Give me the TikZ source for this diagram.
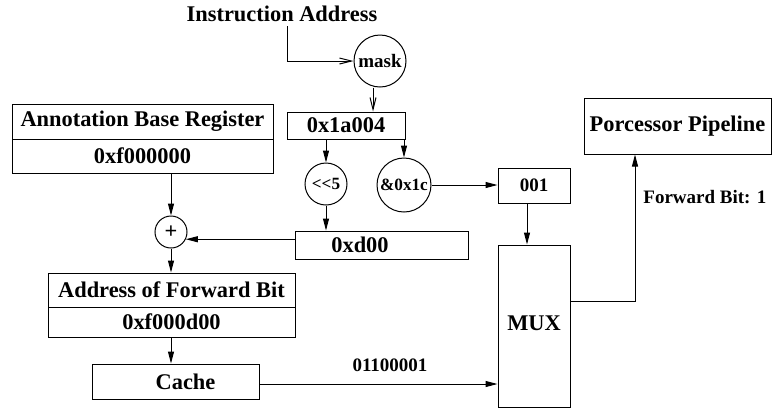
\documentclass[tikz,border=0pt]{standalone}
\usepackage{fontspec}
\setmainfont{Liberation Serif}
\usetikzlibrary{arrows.meta}
\begin{document}
\begin{tikzpicture}[x=0.5pt,y=-0.5pt,
  bigfont/.style={font=\fontsize{11.2}{13}\selectfont\bfseries},
  smallfont/.style={font=\fontsize{9.5}{11}\selectfont\bfseries},
  box/.style={draw, line width=0.5pt, inner sep=0pt, bigfont},
  circ/.style={draw, circle, line width=0.5pt, inner sep=0pt, smallfont},
  lbl/.style={inner sep=0pt, smallfont},
  arr/.style={-{Triangle[length=6pt,width=3pt]}, line width=0.5pt},
  openarr/.style={-{Straight Barb[length=6pt,width=3pt]}, line width=0.5pt}]
\useasboundingbox (0,0) rectangle (772,409);

% input address and mask
\node[inner sep=0pt, bigfont] (ia) at (282,14) {Instruction Address};
\node[circ, minimum size=26pt] (mask) at (380,61) {mask};
\node[box, minimum width=59pt, minimum height=13.5pt] (addr) at (346,125.5) {0x1a004};

% shift and and-mask operators
\node[circ, minimum size=21pt, font=\fontsize{8.6}{10}\selectfont\bfseries] (shl) at (326,184) {\char`\<\kern0pt\char`\<\kern0pt 5};
\node[circ, minimum size=27pt, font=\fontsize{8.6}{10}\selectfont\bfseries] (andm) at (404,185) {\&0x1c};
\node[box, minimum width=86.5pt, minimum height=14pt] (xd00) at (381.5,245) {0xd00\hspace*{21.5pt}};
\node[box, minimum width=36pt, minimum height=17.5pt, smallfont] (b001) at (534,185.5) {001};

% annotation base register and adder
\node[box, minimum width=130.5pt, minimum height=17.5pt] (abr1) at (142.5,121.5) {Annotation Base Register};
\node[box, minimum width=130.5pt, minimum height=17pt] (abr2) at (142.5,156) {0xf000000};
\node[circ, minimum size=16pt, bigfont] (plus) at (171,232) {+};
\node[box, minimum width=123.5pt, minimum height=17pt] (afb1) at (171.5,290) {Address of Forward Bit};
\node[box, minimum width=123.5pt, minimum height=15pt] (afb2) at (171.5,322) {0xf000d00};
\node[box, minimum width=83.5pt, minimum height=17.5pt] (cache) at (175.5,381.5) {\hspace*{10pt}Cache};

% multiplexer and pipeline
\node[box, minimum width=36pt, minimum height=81pt] (mux) at (534,326) {\raisebox{3pt}{MUX}};
\node[box, minimum width=93.5pt, minimum height=28pt] (pp) at (677.5,126) {Porcessor Pipeline};

\node[lbl, anchor=west] (fb) at (643,197) {Forward Bit: 1};
\node[lbl] (bits) at (390,365) {01100001};

% connectors
\draw[openarr] ([xshift=2.5pt,yshift=-2pt]ia.south) |- (mask.west);
\draw[openarr] ([xshift=-3.5pt]mask.south) -- ([xshift=-3.5pt]mask.south |- addr.north);
\draw[arr] (addr.south -| shl) -- (shl);
\draw[arr] (addr.south -| andm) -- (andm);
\draw[arr] (andm) -- (andm -| b001.west);
\draw[arr] (shl) -- (shl |- xd00.north);
\draw[arr] (xd00.west |- plus.-26) -- (plus.-26);
\draw[arr] (abr2.south -| plus) -- (plus);
\draw[arr] (plus) -- (plus |- afb1.north);
\draw[arr] (afb2.south -| plus) -- (plus |- cache.north);
\draw[arr] ([xshift=-3.5pt]b001.south) -- ([xshift=-3.5pt]b001.south |- mux.north);
\draw[arr] ([yshift=-1.25pt]cache.east) -- ([yshift=-1.25pt]cache.east -| mux.west);
\draw[arr] ([yshift=12.5pt]mux.east) -| ([xshift=-21.25pt]pp.south);
\end{tikzpicture}
\end{document}
